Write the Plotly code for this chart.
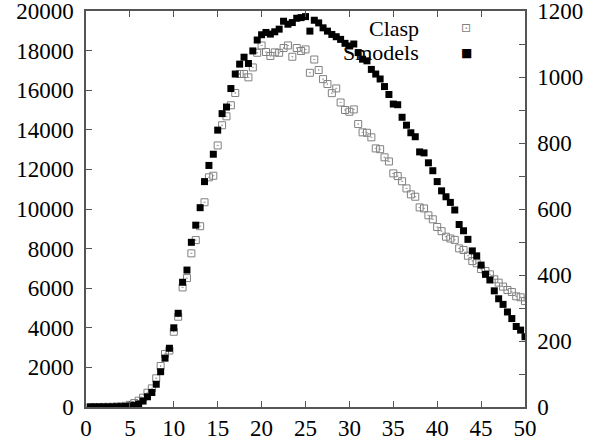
import plotly.graph_objects as go

# x positions (problem size / parameter)
x_vals = [0.5, 1.0, 1.5, 2.0, 2.5, 3.0, 3.5, 4.0, 4.5, 5.0,
          5.5, 6.0, 6.5, 7.0, 7.5, 8.0, 8.5, 9.0, 9.5, 10.0,
          10.5, 11.0, 11.5, 12.0, 12.5, 13.0, 13.5, 14.0, 14.5, 15.0,
          15.5, 16.0, 16.5, 17.0, 17.5, 18.0, 18.5, 19.0, 19.5, 20.0,
          20.5, 21.0, 21.5, 22.0, 22.5, 23.0, 23.5, 24.0, 24.5, 25.0,
          25.5, 26.0, 26.5, 27.0, 27.5, 28.0, 28.5, 29.0, 29.5, 30.0,
          30.5, 31.0, 31.5, 32.0, 32.5, 33.0, 33.5, 34.0, 34.5, 35.0,
          35.5, 36.0, 36.5, 37.0, 37.5, 38.0, 38.5, 39.0, 39.5, 40.0,
          40.5, 41.0, 41.5, 42.0, 42.5, 43.0, 43.5, 44.0, 44.5, 45.0,
          45.5, 46.0, 46.5, 47.0, 47.5, 48.0, 48.5, 49.0, 49.5, 50.0]

# Clasp (left axis)
clasp = [0, 0, 0, 5, 5, 10, 20, 35, 60, 110,
         200, 320, 470, 720, 940, 1450, 2070, 2680, 2850, 3800,
         4560, 6040, 6510, 7760, 8430, 9130, 10340, 11600, 11680, 13210,
         14230, 14680, 15240, 15860, 16820, 16820, 16650, 17150, 17890, 18260,
         17930, 17730, 17910, 17890, 18130, 18260, 17690, 18130, 17980, 18060,
         16880, 17550, 17020, 16560, 16310, 15850, 16090, 15380, 15000, 14910,
         15030, 14290, 13870, 13850, 13620, 13060, 13020, 12610, 12400, 11800,
         11660, 11400, 11040, 10740, 10620, 10080, 10030, 9680, 9480, 9090,
         8880, 8600, 8510, 8440, 8010, 7930, 7640, 7370, 7260, 6970,
         6870, 6700, 6450, 6280, 6080, 5910, 5810, 5590, 5540, 5350]

# Smodels (right axis)
smodels = [0, 0, 0, 0, 0, 0.3, 0.6, 0.9, 1.5, 2.7,
           4.8, 9, 18, 31, 44, 69, 107, 148, 178, 240,
           284, 378, 415, 499, 551, 604, 683, 732, 766, 839,
           889, 909, 965, 1009, 1039, 1060, 1041, 1079, 1112, 1128,
           1135, 1130, 1137, 1145, 1169, 1160, 1165, 1178, 1180, 1183,
           1139, 1172, 1164, 1149, 1139, 1129, 1122, 1114, 1102, 1094,
           1100, 1074, 1054, 1049, 1023, 1009, 994, 971, 947, 918,
           916, 878, 854, 831, 819, 773, 770, 740, 716, 683,
           655, 637, 620, 597, 553, 534, 508, 473, 458, 430,
           402, 385, 352, 328, 311, 288, 268, 244, 233, 213]

left_ticks = [0, 2000, 4000, 6000, 8000, 10000, 12000, 14000, 16000, 18000, 20000]
left_labels = ["0", "2000", "4000", "6000", "8000", "10000", "12000",
               "14000", "16000", "18000", "20000"]
right_ticks = [0, 100, 200, 300, 400, 500, 600, 700, 800, 900, 1000, 1100, 1200]
right_labels = ["0", "", "200", "", "400", "", "600", "", "800", "", "1000", "", "1200"]
x_ticks = [0, 5, 10, 15, 20, 25, 30, 35, 40, 45, 50]
x_labels = ["0", "5", "10", "15", "20", "25", "30", "35", "40", "45", "50"]

series_names = ["Clasp", "Smodels"]

AX = "#555555"
FONT = "Liberation Serif"
TF = dict(family=FONT, size=23, color="black")

fig = go.Figure()
fig.add_trace(go.Scatter(
    x=x_vals, y=clasp, mode="markers", name=series_names[0],
    marker=dict(symbol="square-open-dot", size=7, color="#808080",
                line=dict(width=1, color="#808080")),
    yaxis="y"))
fig.add_trace(go.Scatter(
    x=x_vals, y=smodels, mode="markers", name=series_names[1],
    marker=dict(symbol="square", size=7, color="black",
                line=dict(width=0)),
    yaxis="y2"))

fig.update_layout(
    width=593, height=446,
    margin=dict(l=86, r=68, t=11, b=39, autoexpand=False),
    paper_bgcolor="white", plot_bgcolor="white",
    font=TF,
    showlegend=False,
    xaxis=dict(range=[0, 50], tickvals=x_ticks, ticktext=x_labels,
               ticks="inside", ticklen=6, tickfont=TF, automargin=False,
               ticklabeloverflow="allow",
               tickcolor=AX, showline=True, linecolor=AX, linewidth=1.5,
               mirror="ticks", showgrid=False, zeroline=False),
    yaxis=dict(range=[0, 20000], tickvals=left_ticks, ticktext=left_labels,
               ticks="inside", ticklen=6, tickfont=TF, automargin=False,
               ticklabeloverflow="allow", ticklabelstandoff=6,
               tickcolor=AX, showline=True, linecolor=AX, linewidth=1.5,
               showgrid=False, zeroline=False),
    yaxis2=dict(range=[0, 1200], tickvals=right_ticks, ticktext=right_labels,
                ticks="inside", ticklen=6, tickfont=TF, automargin=False,
                ticklabeloverflow="allow", ticklabelstandoff=6,
                tickcolor=AX, showline=True,
                linecolor=AX, linewidth=1.5, overlaying="y", side="right",
                showgrid=False, zeroline=False),
)

# legend (gnuplot style: text right-aligned, key sample on the right)
for i, (name, key, col) in enumerate(zip(series_names, ["⊡", "■"], ["#808080", "black"])):
    yp = 0.957 - i * 0.062
    fig.add_annotation(xref="paper", yref="paper", x=0.763, y=yp, text=name,
                       showarrow=False, xanchor="right", yanchor="middle",
                       font=dict(family=FONT, size=22, color="black"))
    fig.add_annotation(xref="paper", yref="paper", x=0.866, y=yp, text=key,
                       showarrow=False, xanchor="center", yanchor="middle",
                       font=dict(family="DejaVu Sans", size=12, color=col))

fig.write_html("out.html", config={"displayModeBar": False},
               post_script="document.body.style.margin='0';")
